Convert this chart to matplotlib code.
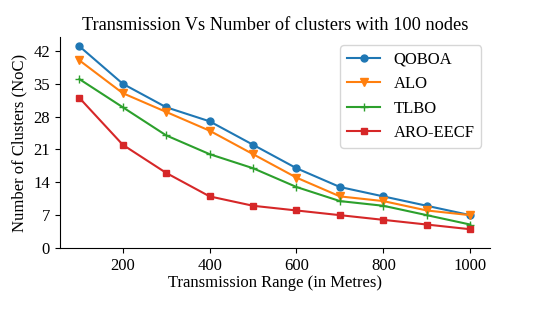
import matplotlib
matplotlib.use("Agg")
import matplotlib.pyplot as plt

plt.rcParams["font.family"] = ["Liberation Serif", "DejaVu Serif"]

ranges = [100, 200, 300, 400, 500, 600, 700, 800, 900, 1000]
qoboa = [43, 35, 30, 27, 22, 17, 13, 11, 9, 7]
alo = [40, 33, 29, 25, 20, 15, 11, 10, 8, 7]
tlbo = [36, 30, 24, 20, 17, 13, 10, 9, 7, 5]
aro_eecf = [32, 22, 16, 11, 9, 8, 7, 6, 5, 4]
yticks = [0, 7, 14, 21, 28, 35, 42]

fig = plt.figure(figsize=(5.54, 3.10), dpi=100)
ax = fig.add_axes([0.108, 0.2, 0.776, 0.681])

ax.plot(ranges, qoboa, marker="o", markersize=5, color="#1f77b4", label="QOBOA")
ax.plot(ranges, alo, marker="v", markersize=5.5, color="#ff7f0e", label="ALO")
ax.plot(ranges, tlbo, marker="+", markersize=6, color="#2ca02c", label="TLBO")
ax.plot(ranges, aro_eecf, marker="s", markersize=5, color="#d62728", label="ARO-EECF")

ax.set_ylim(0, 45)
ax.set_yticks(yticks)
ax.set_xticks([200, 400, 600, 800, 1000])
ax.tick_params(labelsize=12)
ax.spines["top"].set_visible(False)
ax.spines["right"].set_visible(False)

ax.set_title("Transmission Vs Number of clusters with 100 nodes", fontsize=13.2, pad=5)
ax.set_xlabel("Transmission Range (in Metres)", fontsize=12, labelpad=1)
ax.set_ylabel("Number of Clusters (NoC)", fontsize=12)
ax.legend(loc="upper right", fontsize=12)

plt.savefig("out.png", dpi=100)
